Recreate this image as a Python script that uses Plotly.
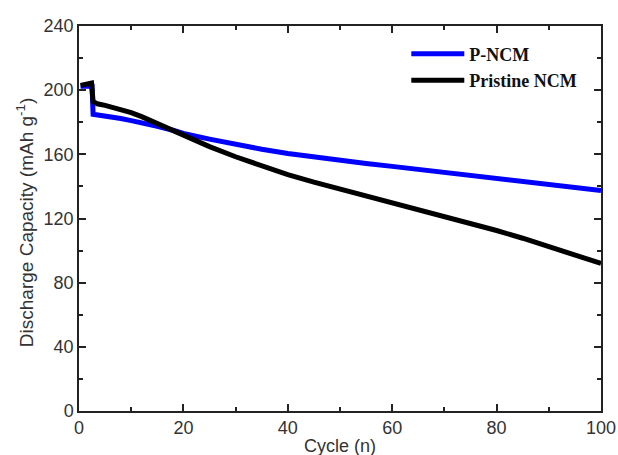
import plotly.graph_objects as go

p_cycles = [0.3, 1, 2, 2.5, 2.7, 5, 8, 10, 12, 15, 18, 20, 25, 30, 35, 40, 45, 50, 55, 60, 65, 70, 75, 80, 85, 90, 95, 100]
p_ncm = [202.5, 202.5, 202.5, 202.5, 185, 184, 182.3, 181, 179.8, 177.5, 175, 173, 169.5, 166.2, 163.2, 160.5, 158.3, 156.2, 154.3, 152.5, 150.6, 148.8, 147, 145.2, 143.3, 141.3, 139.3, 137.5]

n_cycles = [0.3, 1, 2, 2.4, 2.7, 3.5, 5, 8, 10, 12, 15, 18, 20, 25, 30, 35, 40, 45, 50, 55, 60, 65, 70, 75, 80, 85, 90, 95, 100]
pristine = [203, 203.5, 204, 204.5, 193, 191.5, 190.5, 188, 186, 183.5, 179, 174.5, 171.5, 164.8, 158.5, 152.6, 147.3, 142.7, 138.4, 134.2, 130, 125.8, 121.5, 117, 112.5, 107.7, 102.7, 97.3, 92]

x_ticks = [0, 20, 40, 60, 80, 100]
y_ticks = [0, 40, 80, 120, 160, 200, 240]

fig = go.Figure()
fig.add_trace(go.Scatter(x=p_cycles, y=p_ncm, mode="lines", name="P-NCM",
                         line=dict(color="#0000ff", width=5)))
fig.add_trace(go.Scatter(x=n_cycles, y=pristine, mode="lines", name="Pristine NCM",
                         line=dict(color="#000000", width=5)))

axis_common = dict(showline=True, linecolor="#222", linewidth=1.5, mirror="ticks",
                   ticks="inside", ticklen=7, tickwidth=1.5, tickcolor="#222",
                   showgrid=False, zeroline=False, automargin=False,
                   tickfont=dict(family="Liberation Sans, Arial", size=18, color="#333"))

fig.update_xaxes(range=[0, 100], tickvals=x_ticks, **axis_common,
                 minor=dict(ticks="inside", ticklen=4, tickcolor="#222", dtick=10, tick0=0))
fig.update_yaxes(range=[0, 240], tickvals=y_ticks, **axis_common,
                 minor=dict(ticks="inside", ticklen=4, tickcolor="#222", dtick=20, tick0=0))

title_font = dict(family="Liberation Sans, Arial", size=18, color="#333")
fig.add_annotation(text="Cycle (n)", xref="paper", yref="paper", x=0.5, y=-0.091,
                   xanchor="center", yanchor="middle", showarrow=False, font=title_font)
fig.add_annotation(text="Discharge Capacity (mAh g<sup>-1</sup>)", xref="paper", yref="paper",
                   x=-0.1034, y=0.488, xanchor="center", yanchor="middle", textangle=-90,
                   showarrow=False, font=dict(family="Liberation Sans, Arial", size=19, color="#333"))

fig.update_layout(
    width=618, height=455,
    margin=dict(l=79, r=17, t=26, b=44),
    plot_bgcolor="white", paper_bgcolor="white",
    legend=dict(x=0.627, y=0.975, xanchor="left", yanchor="top", bgcolor="rgba(0,0,0,0)",
                font=dict(family="Liberation Serif, Times New Roman", size=18, color="#111", weight="bold"),
                itemwidth=53, tracegroupgap=0),
)
fig.write_html("out.html", config={"displayModeBar": False},
               post_script="document.body.style.margin='0';document.body.style.overflow='hidden';")
